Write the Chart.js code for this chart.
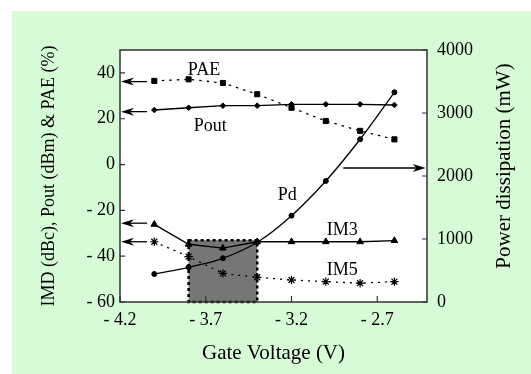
<!DOCTYPE html>
<html>
<head>
<meta charset="utf-8">
<script src="https://cdn.jsdelivr.net/npm/chart.js@4.4.1/dist/chart.umd.min.js"></script>
<style>
  html, body { margin: 0; padding: 0; background: #fff; }
  #wrap { width: 531px; height: 374px; }
</style>
</head>
<body>
<div id="wrap"><canvas id="chart" width="531" height="374"></canvas></div>
<script>
// Gate voltage (V) of each measured point
const gateVoltage = [-4.0, -3.8, -3.6, -3.4, -3.2, -3.0, -2.8, -2.6];

// Left axis: IMD (dBc), Pout (dBm), PAE (%)
const pae = [36.5, 37.2, 35.6, 30.7, 24.8, 19.0, 14.7, 11.0];
const pout = [23.8, 24.8, 25.7, 25.7, 26.3, 26.3, 26.3, 26.0];
const im3 = [-26.1, -34.8, -36.5, -33.7, -33.7, -33.7, -33.7, -33.2];
const im5 = [-33.7, -40.2, -47.5, -49.2, -50.4, -51.1, -51.8, -51.1];

// Right axis: power dissipation (mW)
const pd = [444, 551, 694, 948, 1370, 1921, 2583, 3329];

// Tick labels
const xTicks = [-4.2, -3.7, -3.2, -2.7];
const leftTicks = [-60, -40, -20, 0, 20, 40];
const rightTicks = [0, 1000, 2000, 3000, 4000];

// Shaded operating region (gate voltage range, IMD level)
const shadeRange = [-3.8, -3.4];
const shadeTop = -33;

const FONT = "'Liberation Serif', 'Times New Roman', serif";

function minus(v, digits) {
  const s = digits ? Math.abs(v).toFixed(digits) : String(Math.abs(v));
  return v < 0 ? '- ' + s : s;
}

function toXY(arr) {
  return arr.map((v, i) => ({ x: gateVoltage[i], y: v }));
}

function arrow(ctx, x1, y1, x2) {
  // horizontal arrow from x1 to tip x2
  const dir = Math.sign(x2 - x1);
  ctx.beginPath();
  ctx.moveTo(x1, y1);
  ctx.lineTo(x2 - dir * 8, y1);
  ctx.stroke();
  ctx.beginPath();
  ctx.moveTo(x2, y1);
  ctx.lineTo(x2 - dir * 13, y1 - 4);
  ctx.lineTo(x2 - dir * 9, y1);
  ctx.lineTo(x2 - dir * 13, y1 + 4);
  ctx.closePath();
  ctx.fill();
}

const decor = {
  id: 'decor',
  beforeDraw(chart) {
    const { ctx, chartArea: a } = chart;
    ctx.save();
    ctx.fillStyle = '#ffffff';
    ctx.fillRect(0, 0, chart.width, chart.height);
    ctx.fillStyle = '#d6fbd6';
    ctx.fillRect(12, 11, chart.width - 12, chart.height - 11);
    ctx.fillStyle = '#ffffff';
    ctx.fillRect(a.left, a.top, a.right - a.left, a.bottom - a.top);
    ctx.restore();
  },
  beforeDatasetsDraw(chart) {
    const { ctx } = chart;
    const x = chart.scales.x, yl = chart.scales.yLeft;
    const x1 = x.getPixelForValue(shadeRange[0]);
    const x2 = x.getPixelForValue(shadeRange[1]);
    const y1 = yl.getPixelForValue(shadeTop);
    const y2 = yl.getPixelForValue(-60);
    ctx.save();
    ctx.fillStyle = '#767676';
    ctx.fillRect(x1, y1, x2 - x1, y2 - y1);
    ctx.strokeStyle = '#000';
    ctx.lineWidth = 2.5;
    ctx.setLineDash([3, 3]);
    ctx.strokeRect(x1, y1, x2 - x1, y2 - y1);
    ctx.restore();
  },
  afterDatasetsDraw(chart) {
    const { ctx, chartArea: a } = chart;
    const x = chart.scales.x, yl = chart.scales.yLeft, yr = chart.scales.yRight;
    ctx.save();
    // frame
    ctx.strokeStyle = '#333';
    ctx.lineWidth = 1.5;
    ctx.strokeRect(a.left, a.top, a.right - a.left, a.bottom - a.top);
    // inward tick marks
    ctx.lineWidth = 1.2;
    ctx.beginPath();
    leftTicks.forEach(v => {
      const p = yl.getPixelForValue(v);
      ctx.moveTo(a.left, p); ctx.lineTo(a.left + 5, p);
    });
    rightTicks.forEach(v => {
      const p = yr.getPixelForValue(v);
      ctx.moveTo(a.right, p); ctx.lineTo(a.right - 5, p);
    });
    xTicks.forEach(v => {
      const p = x.getPixelForValue(v);
      ctx.moveTo(p, a.bottom); ctx.lineTo(p, a.bottom - 6);
    });
    ctx.stroke();

    // arrows pointing to the axes
    ctx.strokeStyle = '#000';
    ctx.fillStyle = '#000';
    ctx.lineWidth = 1.3;
    const xa = x.getPixelForValue(-4.042), xb = x.getPixelForValue(-4.194);
    arrow(ctx, xa, yl.getPixelForValue(36.2), xb);
    arrow(ctx, xa, yl.getPixelForValue(23.1), xb);
    arrow(ctx, xa, yl.getPixelForValue(-25.6), xb);
    arrow(ctx, xa, yl.getPixelForValue(-33.7), xb);
    arrow(ctx, x.getPixelForValue(-2.898), yr.getPixelForValue(2127), x.getPixelForValue(-2.418));

    // series labels
    ctx.font = '18px ' + FONT;
    ctx.textAlign = 'center';
    ctx.textBaseline = 'middle';
    ctx.fillText('PAE', x.getPixelForValue(-3.71), yl.getPixelForValue(41.3));
    ctx.fillText('Pout', x.getPixelForValue(-3.674), yl.getPixelForValue(16.9));
    ctx.fillText('Pd', x.getPixelForValue(-3.225), yr.getPixelForValue(1698));
    ctx.fillText('IM3', x.getPixelForValue(-2.904), yl.getPixelForValue(-28.6));
    ctx.fillText('IM5', x.getPixelForValue(-2.904), yl.getPixelForValue(-46));

    // right axis title, read bottom to top like the left one
    ctx.font = '21px ' + FONT;
    ctx.translate(a.right + 77, a.top + 116);
    ctx.rotate(-Math.PI / 2);
    ctx.fillText('Power dissipation (mW)', 0, 0);
    ctx.restore();
  }
};

const common = {
  borderColor: '#000',
  backgroundColor: '#000',
  pointBackgroundColor: '#000',
  pointBorderColor: '#000',
  borderWidth: 1.3,
  pointBorderWidth: 1
};

new Chart(document.getElementById('chart'), {
  type: 'line',
  data: {
    datasets: [
      { ...common, label: 'PAE', data: toXY(pae), yAxisID: 'yLeft',
        borderDash: [2.5, 5], pointStyle: 'rect', pointRadius: 3.6 },
      { ...common, label: 'Pout', data: toXY(pout), yAxisID: 'yLeft',
        pointStyle: 'rectRot', pointRadius: 2.8 },
      { ...common, label: 'IM3', data: toXY(im3), yAxisID: 'yLeft',
        pointStyle: 'triangle', pointRadius: 3.8 },
      { ...common, label: 'IM5', data: toXY(im5), yAxisID: 'yLeft',
        borderDash: [2, 5], pointStyle: 'star', pointRadius: 4.2, pointBorderWidth: 1.2 },
      { ...common, label: 'Pd', data: toXY(pd), yAxisID: 'yRight',
        pointStyle: 'circle', pointRadius: 2.5, tension: 0.4, cubicInterpolationMode: 'monotone' }
    ]
  },
  options: {
    responsive: false,
    animation: false,
    layout: { padding: { top: 50, left: 0, right: 0, bottom: 0 } },
    plugins: { legend: { display: false }, tooltip: { enabled: false } },
    scales: {
      x: {
        type: 'linear',
        position: 'bottom',
        min: -4.2,
        max: -2.41,
        grid: { display: false, drawTicks: false },
        border: { display: false },
        afterBuildTicks: s => { s.ticks = xTicks.map(v => ({ value: v })); },
        afterFit: s => { s.height = 72; },
        ticks: {
          color: '#000', padding: 7, maxRotation: 0,
          font: { family: FONT, size: 18 },
          callback: v => minus(v, 1)
        },
        title: {
          display: true, text: 'Gate Voltage (V)', color: '#000',
          font: { family: FONT, size: 21 }, padding: { top: 0, bottom: 8.4 }
        }
      },
      yLeft: {
        type: 'linear',
        position: 'left',
        min: -60,
        max: 50,
        grid: { display: false, drawTicks: false },
        border: { display: false },
        afterBuildTicks: s => { s.ticks = leftTicks.map(v => ({ value: v })); },
        afterFit: s => { s.width = 120; },
        ticks: {
          color: '#000', padding: 5,
          font: { family: FONT, size: 18 },
          callback: v => minus(v)
        },
        title: {
          display: true, text: 'IMD (dBc), Pout (dBm) & PAE (%)', color: '#000',
          font: { family: FONT, size: 18 }, padding: { top: 38, bottom: 0 }
        }
      },
      yRight: {
        type: 'linear',
        position: 'right',
        min: 0,
        max: 4000,
        grid: { display: false, drawTicks: false },
        border: { display: false },
        afterBuildTicks: s => { s.ticks = rightTicks.map(v => ({ value: v })); },
        afterFit: s => { s.width = 104; },
        ticks: {
          color: '#000', padding: 10,
          font: { family: FONT, size: 18 },
          callback: v => String(v)
        }
      }
    }
  },
  plugins: [decor]
});
</script>
</body>
</html>
